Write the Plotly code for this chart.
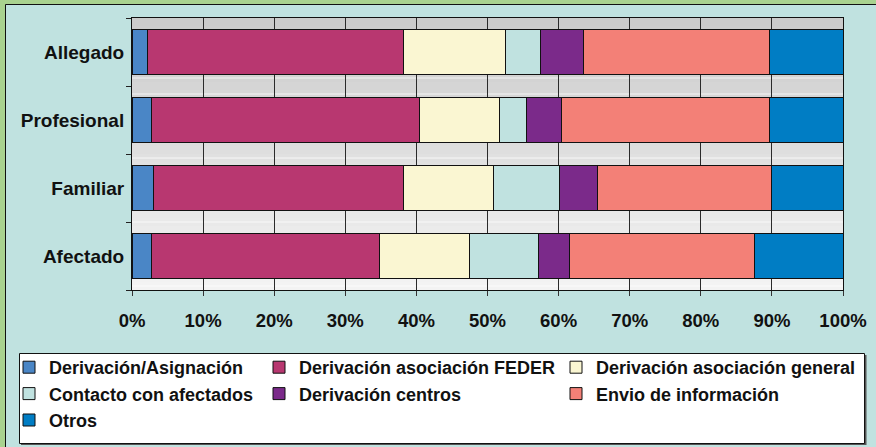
import plotly.graph_objects as go

# Respondent profiles (bottom to top) and the share of each type of response
categories = ["Afectado", "Familiar", "Profesional", "Allegado"]

series_names = [
    "Derivación/Asignación",
    "Derivación asociación FEDER",
    "Derivación asociación general",
    "Contacto con afectados",
    "Derivación centros",
    "Envio de información",
    "Otros",
]
asignacion = [2.8, 3.0, 2.7, 2.2]
feder = [32.0, 35.2, 37.8, 36.0]
general = [12.7, 12.7, 11.2, 14.4]
contacto = [9.7, 9.2, 3.8, 4.8]
centros = [4.3, 5.4, 4.9, 6.1]
envio = [26.1, 24.5, 29.3, 26.1]
otros = [12.4, 10.0, 10.3, 10.4]

series_values = [asignacion, feder, general, contacto, centros, envio, otros]
series_colors = ["#4A86C6", "#B83770", "#FAF6D2", "#C0E2E0", "#7B2A8A", "#F38077", "#007DC4"]
# legend column each series sits in
series_legend = ["legend", "legend2", "legend3", "legend", "legend2", "legend3", "legend"]

W, H = 876, 447
L, R, T, B = 132, 843, 18, 290  # plot area in pixels

FONT = "Liberation Sans, Arial, sans-serif"
TEAL = "#C0E2E0"
GREEN = "#A9D28F"


def px_x(p):
    return (p - L) / (R - L)


def px_y(p):
    return (B - p) / (B - T)


fig = go.Figure()
for name, vals, col, leg in zip(series_names, series_values, series_colors, series_legend):
    fig.add_trace(go.Bar(
        y=categories, x=vals, name=name, orientation="h",
        marker=dict(color=col, line=dict(color="#111111", width=1)),
        legend=leg,
    ))

shapes = []
# chart frame: teal panel with a black edge on a green surround
shapes.append(dict(type="rect", xref="paper", yref="paper", layer="below",
                   x0=px_x(5.5), x1=px_x(W + 5), y0=px_y(H + 5), y1=px_y(4.5),
                   fillcolor=TEAL, line=dict(color="#111111", width=1)))

# plot-area background: vertical grey gradient with light streaks
steps = 34
c_top, c_bot = 0xCB, 0xF3
for i in range(steps):
    f = i / (steps - 1)
    g = int(round(c_top + (c_bot - c_top) * f))
    col = f"rgb({g},{g},{g})"
    y1 = 1 - i / steps
    y0 = 1 - (i + 1) / steps
    shapes.append(dict(type="rect", xref="paper", yref="paper", layer="below",
                       x0=0, x1=1, y0=y0, y1=y1, fillcolor=col, line=dict(width=0)))
    if i % 2 == 1:
        shapes.append(dict(type="line", xref="paper", yref="paper", layer="below",
                           x0=0, x1=1, y0=y0 + 0.5 / steps, y1=y0 + 0.5 / steps,
                           line=dict(color="rgba(255,255,255,0.75)", width=1)))

# legend box with a small drop shadow
shapes.append(dict(type="rect", xref="paper", yref="paper", layer="below",
                   x0=px_x(21), x1=px_x(866.5), y0=px_y(445), y1=px_y(355),
                   fillcolor="#555555", line=dict(width=0)))
shapes.append(dict(type="rect", xref="paper", yref="paper", layer="below",
                   x0=px_x(19.5), x1=px_x(864.5), y0=px_y(443.5), y1=px_y(353.5),
                   fillcolor="white", line=dict(color="#111111", width=1)))

legend_common = dict(
    xref="container", yref="container", xanchor="left", yanchor="top",
    orientation="v", bgcolor="rgba(0,0,0,0)", borderwidth=0,
    font=dict(family=FONT, size=18, color="#111111", weight="bold"),
    tracegroupgap=0, traceorder="normal",
)
legend_top = 1 - 349 / H

fig.update_layout(
    width=W, height=H,
    margin=dict(l=L, r=W - R, t=T, b=H - B, autoexpand=False),
    paper_bgcolor=GREEN,
    plot_bgcolor="rgba(0,0,0,0)",
    barmode="stack",
    barnorm="percent",
    bargap=0.333,
    font=dict(family=FONT, size=18, color="#111111", weight="bold"),
    showlegend=True,
    legend=dict(x=9 / W, y=legend_top, **legend_common),
    legend2=dict(x=259 / W, y=legend_top, **legend_common),
    legend3=dict(x=556 / W, y=legend_top, **legend_common),
    shapes=shapes,
    xaxis=dict(
        range=[0, 100], dtick=10, ticksuffix="%",
        showgrid=True, gridcolor="#2A2A2A", gridwidth=1,
        showline=True, linecolor="#111111", linewidth=1, mirror=True,
        ticks="outside", ticklen=5, tickcolor="#333333", tickwidth=1,
        ticklabelstandoff=9,
        tickfont=dict(family=FONT, size=18.5, color="#111111", weight="bold"),
        zeroline=False, fixedrange=True,
    ),
    yaxis=dict(
        type="category", categoryorder="array", categoryarray=categories,
        tickson="boundaries", ticks="outside", ticklen=5, tickcolor="#222222",
        showgrid=False, showline=True, linecolor="#111111", linewidth=1, mirror=True,
        tickfont=dict(family=FONT, size=19, color="#111111", weight="bold"),
        ticklabelstandoff=3,
        fixedrange=True,
    ),
)

fig.write_html("out.html")
